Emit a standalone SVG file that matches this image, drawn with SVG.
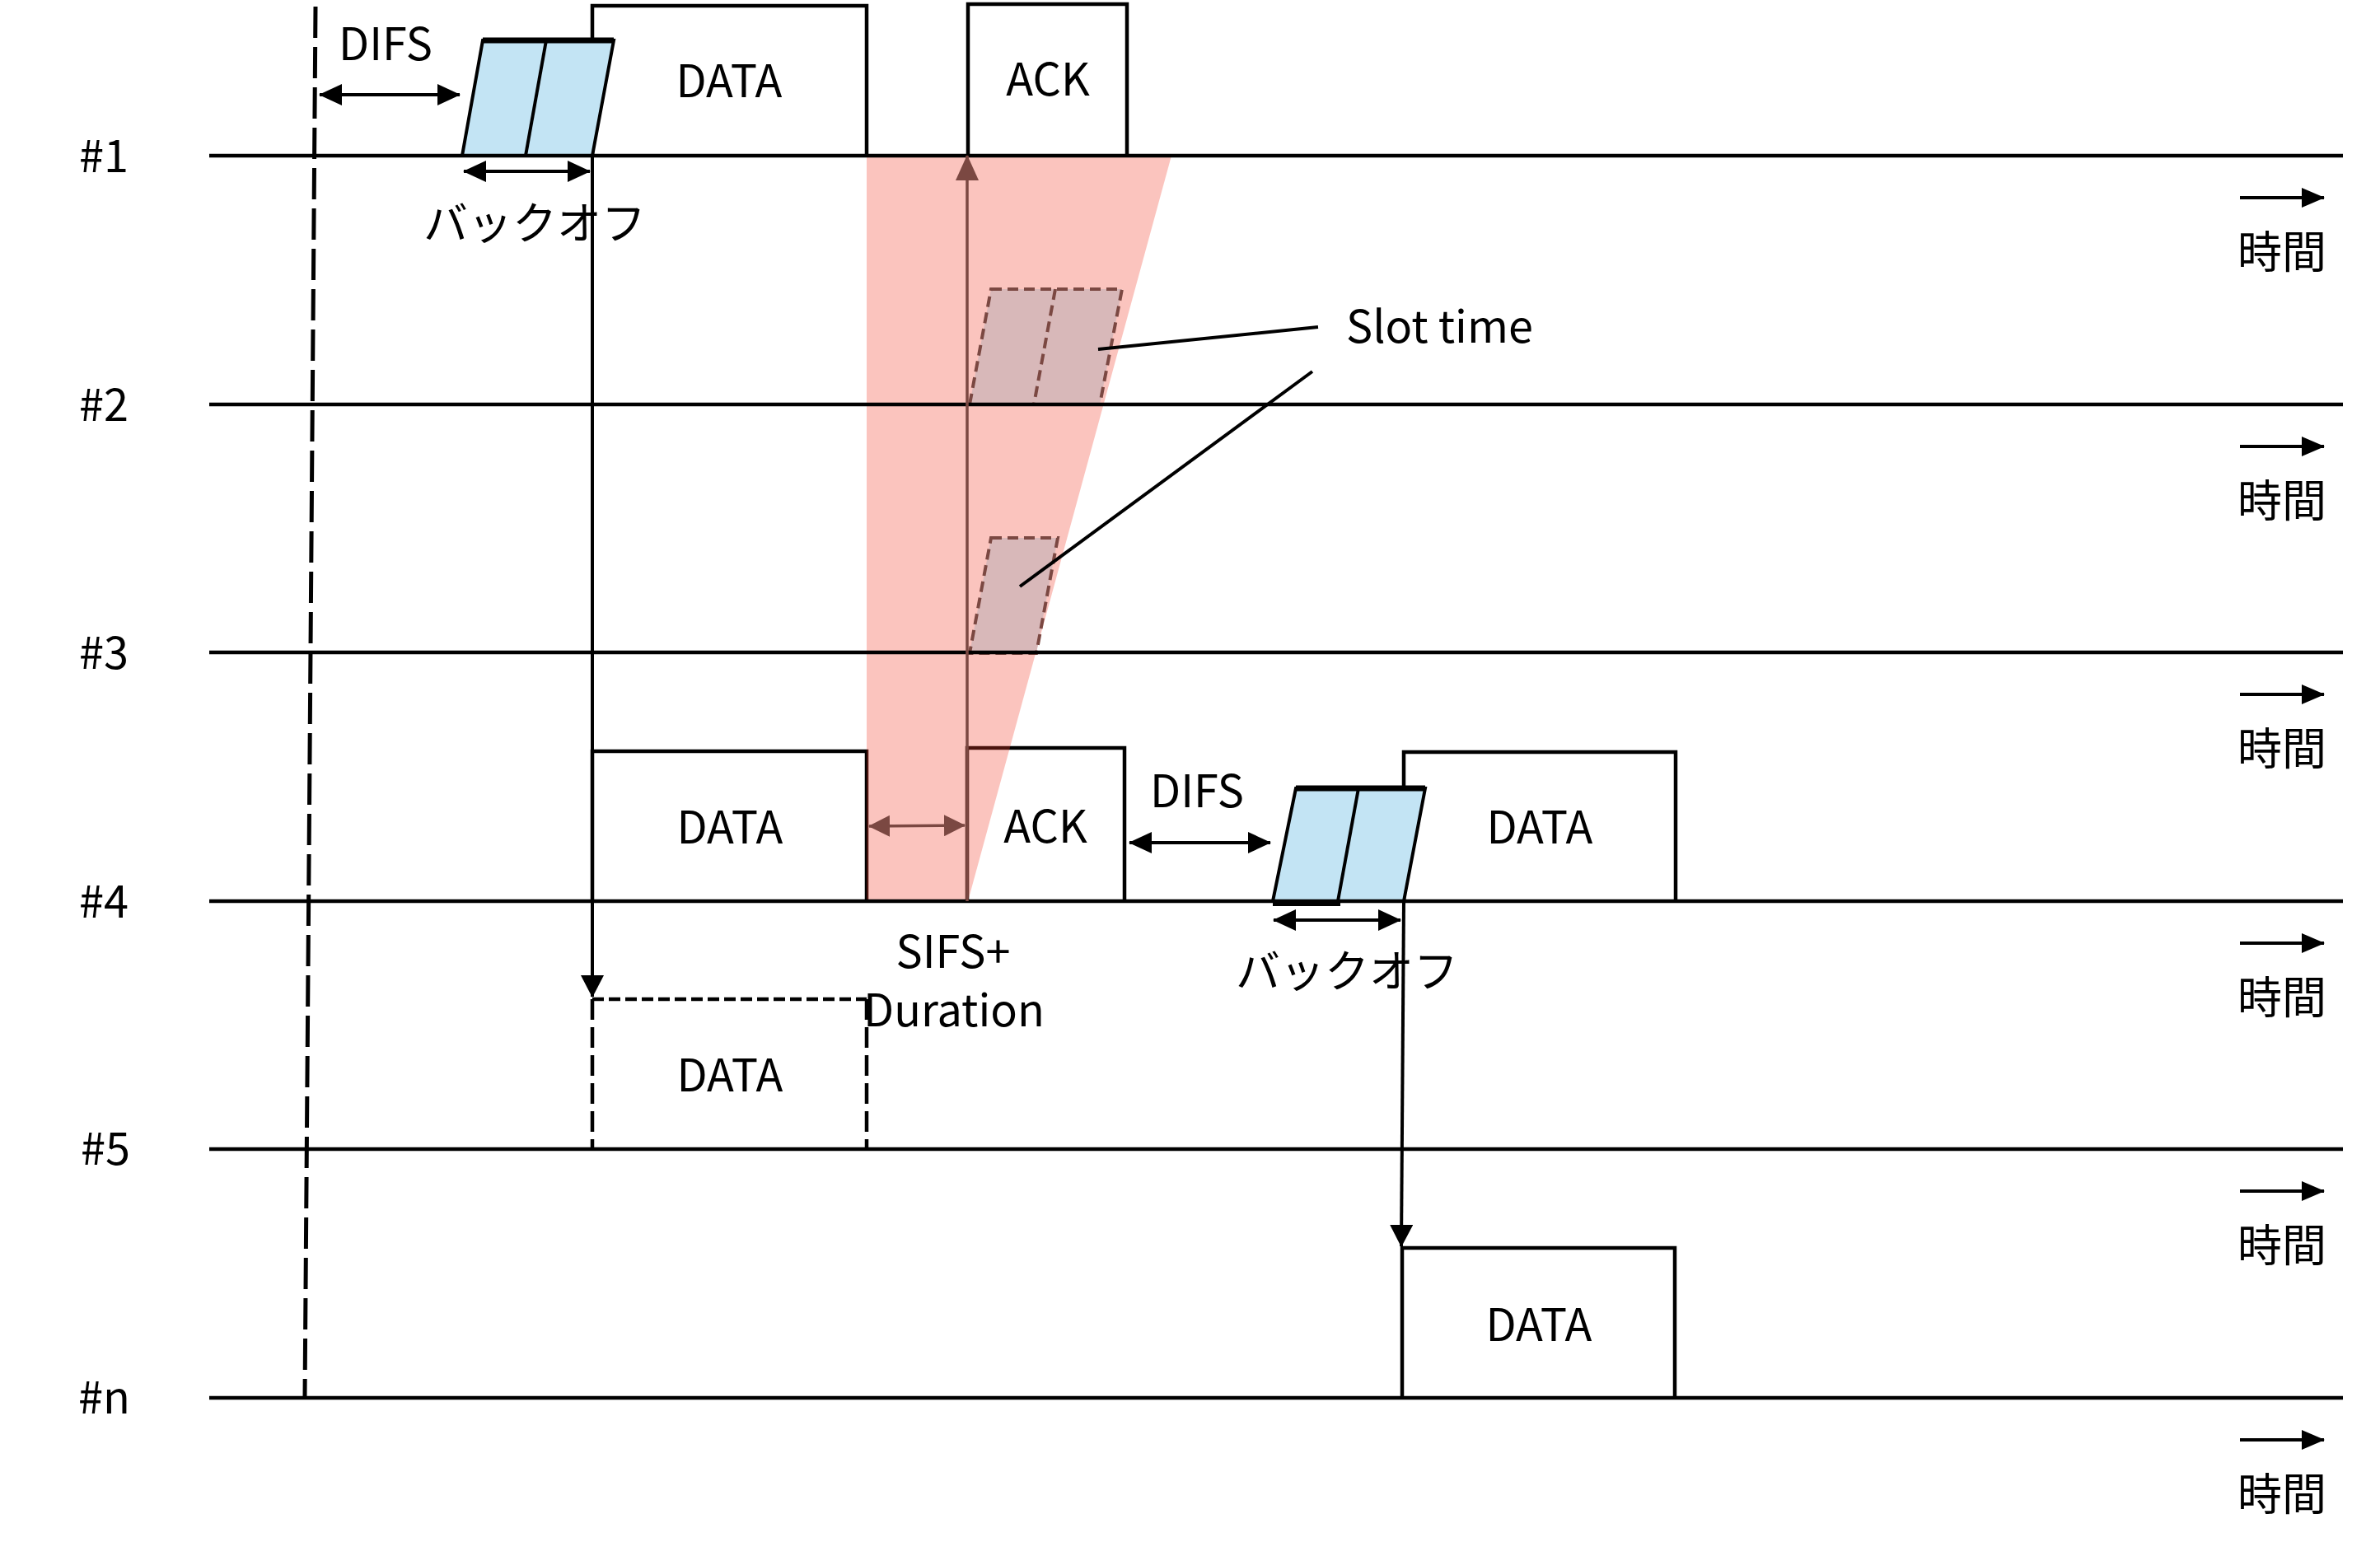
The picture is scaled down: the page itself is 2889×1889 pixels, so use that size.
<svg xmlns="http://www.w3.org/2000/svg" width="2889" height="1889" viewBox="0 0 2889 1889">
<style>
text{font-family:"Noto Sans CJK JP","Noto Sans",sans-serif;font-size:54px;fill:#000}
.mid{text-anchor:middle}
.tl{stroke:#000;stroke-width:4.5;fill:none}
.box{stroke:#000;stroke-width:4.5;fill:none}
.ln{stroke:#000;stroke-width:4;fill:none}
.brn{stroke:#7b4842;stroke-width:3.5;fill:none}
.blue{fill:#c3e4f4;stroke:#000;stroke-width:4}
.slot{fill:#d8b8b9;stroke:#7b4842;stroke-width:4;stroke-dasharray:13 7}
</style>
<defs>
<marker id="ah" markerUnits="userSpaceOnUse" markerWidth="28" markerHeight="26" refX="27" refY="13" orient="auto-start-reverse"><path d="M0,0 L28,13 L0,26 z" fill="#000"/></marker>
<marker id="ahb" markerUnits="userSpaceOnUse" markerWidth="26" markerHeight="26" refX="25" refY="13" orient="auto-start-reverse"><path d="M0,0 L26,13 L0,26 z" fill="#7b4842"/></marker>
<marker id="ahv" markerUnits="userSpaceOnUse" markerWidth="28" markerHeight="28" refX="26" refY="14" orient="auto"><path d="M0,0 L27,14 L0,28 z" fill="#000"/></marker>
<marker id="aht" markerUnits="userSpaceOnUse" markerWidth="28" markerHeight="26" refX="27" refY="12" orient="auto"><path d="M0,0 L28,12 L0,24 z" fill="#000"/></marker>
<marker id="ahbu" markerUnits="userSpaceOnUse" markerWidth="32" markerHeight="30" refX="30" refY="14" orient="auto"><path d="M0,0 L31,14 L0,28 z" fill="#7b4842"/></marker>
</defs>
<rect width="2889" height="1889" fill="#fff"/>

<g id="frames">
<g id="data1"><path class="box" d="M719,189 V7 H1052 V189"/><text class="mid" x="885" y="118">DATA</text></g>
<g id="ack1"><path class="box" d="M1175,189 V5 H1368 V189"/><text class="mid" x="1272" y="116">ACK</text></g>
<g id="data4a"><path class="box" d="M719,1094 V912 H1052 V1094"/><text class="mid" x="886" y="1024">DATA</text></g>
<g id="ack4"><path class="box" d="M1174,1094 V908 H1365 V1094"/><text class="mid" x="1269" y="1023">ACK</text></g>
<g id="data4b"><path class="box" d="M1704,1094 V913 H2034 V1094"/><text class="mid" x="1869" y="1024">DATA</text></g>
<g id="data5"><path class="box" d="M719,1213 H1052" stroke-dasharray="14 6"/><path class="box" d="M719,1213 V1395 M1052,1213 V1395" stroke-dasharray="25 9"/><text class="mid" x="886" y="1325">DATA</text></g>
<g id="datan"><path class="box" d="M1702,1697 V1515 H2033 V1697"/><text class="mid" x="1868" y="1628">DATA</text></g>
</g>

<g id="nav">
<polygon points="1052,189 1422,189 1175,1094 1052,1094" fill="#f23f2e" fill-opacity="0.31"/>
</g>

<g id="backoff1">
<polygon class="blue" points="586,49 745,49 719,189 561,189"/>
<line class="ln" x1="663" y1="49" x2="638" y2="189"/>
<line x1="586" y1="49" x2="745" y2="49" stroke="#000" stroke-width="7"/>
</g>
<g id="backoff4">
<polygon class="blue" points="1573,957 1730,957 1704,1094 1545,1094"/>
<line class="ln" x1="1649" y1="957" x2="1624" y2="1094"/>
<line x1="1573" y1="957" x2="1730" y2="957" stroke="#000" stroke-width="7"/>
<line x1="1545" y1="1097" x2="1627" y2="1097" stroke="#000" stroke-width="6"/>
</g>
<g id="slot2">
<polygon class="slot" points="1203,351 1362,351 1335,491 1177,491"/>
<line class="slot" x1="1281" y1="351" x2="1255" y2="491"/>
</g>
<g id="slot3">
<polygon class="slot" points="1203,653 1284,653 1258,793 1177,793"/>
</g>

<g id="timelines">
<line class="tl" x1="254" y1="189" x2="2844" y2="189"/>
<line class="tl" x1="254" y1="491" x2="2844" y2="491"/>
<line class="tl" x1="254" y1="792" x2="2844" y2="792"/>
<line class="tl" x1="254" y1="1094" x2="2844" y2="1094"/>
<line class="tl" x1="254" y1="1395" x2="2844" y2="1395"/>
<line class="tl" x1="254" y1="1697" x2="2844" y2="1697"/>
<line x1="383" y1="8" x2="370" y2="1697" stroke="#000" stroke-width="5" stroke-dasharray="38 11"/>
</g>

<g id="stations">
<text x="96" y="209">#1</text>
<text x="96" y="511">#2</text>
<text x="96" y="812">#3</text>
<text x="96" y="1114">#4</text>
<text x="98" y="1414">#5</text>
<text x="95" y="1716">#n</text>
</g>

<g id="time-axis">
<line class="ln" x1="2719" y1="240" x2="2821" y2="240" marker-end="url(#aht)"/>
<line class="ln" x1="2719" y1="542" x2="2821" y2="542" marker-end="url(#aht)"/>
<line class="ln" x1="2719" y1="843" x2="2821" y2="843" marker-end="url(#aht)"/>
<line class="ln" x1="2719" y1="1145" x2="2821" y2="1145" marker-end="url(#aht)"/>
<line class="ln" x1="2719" y1="1446" x2="2821" y2="1446" marker-end="url(#aht)"/>
<line class="ln" x1="2719" y1="1748" x2="2821" y2="1748" marker-end="url(#aht)"/>
<text class="mid" x="2770" y="326" font-size="52">時間</text>
<text class="mid" x="2770" y="628" font-size="52">時間</text>
<text class="mid" x="2770" y="929" font-size="52">時間</text>
<text class="mid" x="2770" y="1231" font-size="52">時間</text>
<text class="mid" x="2770" y="1532" font-size="52">時間</text>
<text class="mid" x="2770" y="1834" font-size="52">時間</text>
</g>

<g id="connectors">
<line class="ln" x1="388" y1="115" x2="558" y2="115" marker-start="url(#ah)" marker-end="url(#ah)"/>
<line class="ln" x1="563" y1="208" x2="716" y2="208" marker-start="url(#ah)" marker-end="url(#ah)"/>
<line class="ln" x1="1371" y1="1023" x2="1542" y2="1023" marker-start="url(#ah)" marker-end="url(#ah)"/>
<line class="ln" x1="1546" y1="1117" x2="1700" y2="1117" marker-start="url(#ah)" marker-end="url(#ah)"/>
<line class="ln" x1="719" y1="189" x2="719" y2="1210" marker-end="url(#ahv)"/>
<line class="ln" x1="1704" y1="1094" x2="1701" y2="1513" marker-end="url(#ahv)"/>
<line class="brn" x1="1174" y1="1094" x2="1174" y2="189" marker-end="url(#ahbu)"/>
<line class="brn" x1="1055" y1="1003" x2="1171" y2="1002" stroke-width="5" marker-start="url(#ahb)" marker-end="url(#ahb)"/>
<line class="ln" x1="1600" y1="397" x2="1333" y2="424"/>
<line class="ln" x1="1593" y1="451" x2="1238" y2="712"/>
</g>

<g id="labels">
<text class="mid" x="468" y="73">DIFS</text>
<text class="mid" x="649" y="291">バックオフ</text>
<text x="1634" y="416" font-size="58">Slot time</text>
<text class="mid" x="1453" y="980">DIFS</text>
<text class="mid" x="1635" y="1199">バックオフ</text>
<text class="mid" x="1157" y="1175" font-size="51">SIFS+</text>
<text class="mid" x="1158" y="1246" font-size="51">Duration</text>
</g>
</svg>
